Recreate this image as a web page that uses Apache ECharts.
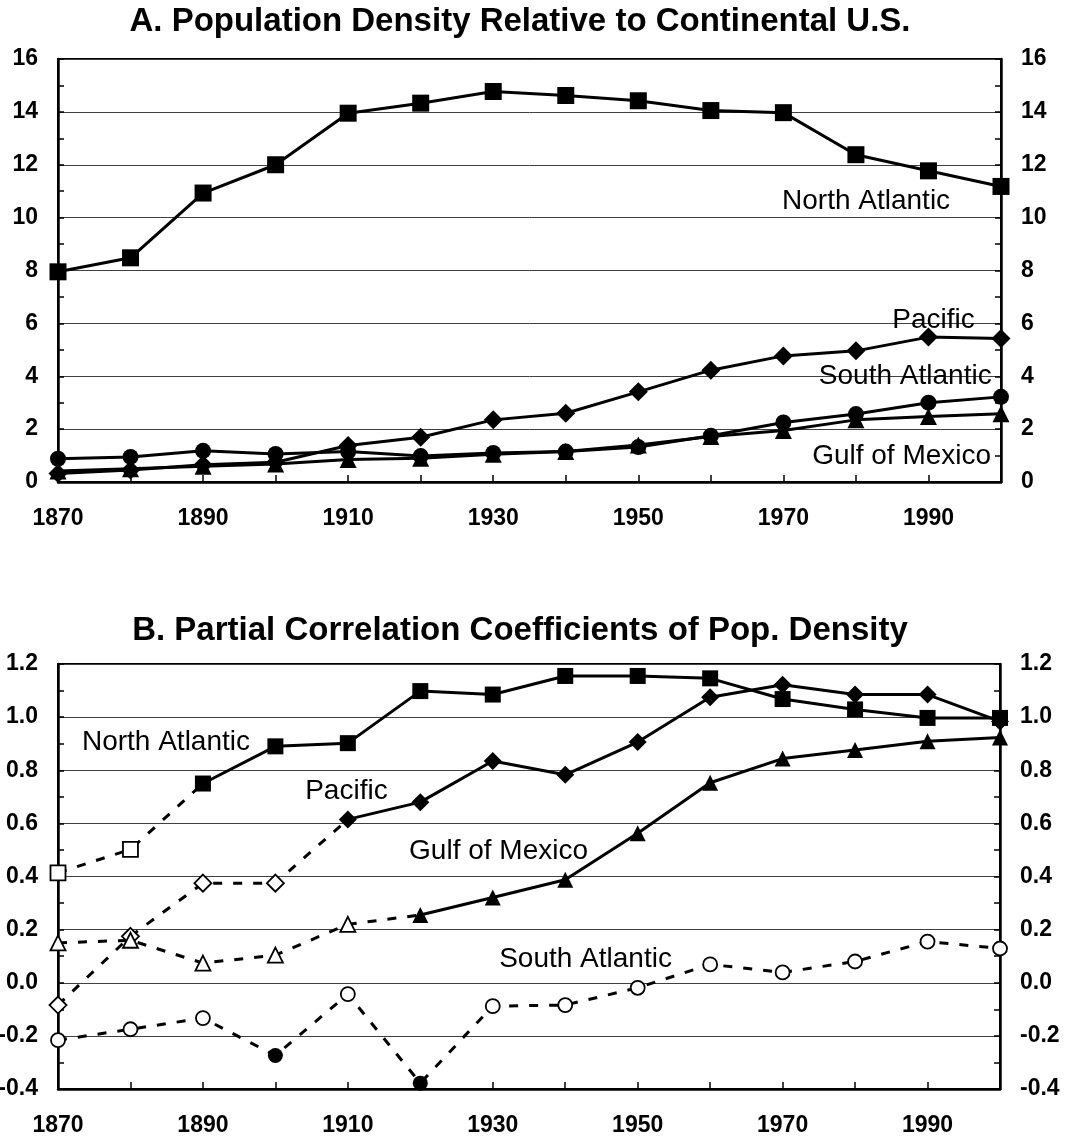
<!DOCTYPE html>
<html><head><meta charset="utf-8">
<script src="https://cdn.jsdelivr.net/npm/echarts@6/dist/echarts.min.js"></script>
<style>html,body{margin:0;padding:0;background:#fff}#c{width:1065px;height:1142px}</style>
</head><body><div id="c"></div>
<script>
// ---------------- DATA ----------------
const years = ['1870','1880','1890','1900','1910','1920','1930','1940','1950','1960','1970','1980','1990','2000'];

// Panel A: population density relative to continental U.S.
const aNorthAtlantic = [7.95, 8.48, 10.93, 12.0, 13.95, 14.33, 14.77, 14.62, 14.42, 14.05, 13.97, 12.38, 11.77, 11.18];
const aPacific       = [0.32, 0.45, 0.65, 0.75, 1.38, 1.69, 2.35, 2.6, 3.41, 4.23, 4.77, 4.96, 5.48, 5.43];
const aSouthAtlantic = [0.88, 0.95, 1.18, 1.06, 1.15, 0.98, 1.1, 1.15, 1.32, 1.75, 2.25, 2.57, 3.0, 3.22];
const aGulfOfMexico  = [0.42, 0.5, 0.6, 0.68, 0.85, 0.9, 1.05, 1.15, 1.4, 1.72, 1.95, 2.35, 2.48, 2.58];

// Panel B: partial correlation coefficients (1 = filled / significant marker, 0 = open marker)
const bNorthAtlantic = [0.414, 0.502, 0.75, 0.89, 0.902, 1.098, 1.085, 1.155, 1.155, 1.146, 1.068, 1.029, 0.997, 0.997];
const bNorthAtlanticFilled = [0,0,1,1,1,1,1,1,1,1,1,1,1,1];
const bPacific = [-0.084, 0.175, 0.375, 0.375, 0.615, 0.68, 0.835, 0.783, 0.906, 1.075, 1.122, 1.085, 1.085, 0.984];
const bPacificFilled = [0,0,0,0,1,1,1,1,1,1,1,1,1,1];
const bGulfOfMexico = [0.15, 0.16, 0.074, 0.104, 0.22, 0.255, 0.321, 0.388, 0.563, 0.753, 0.844, 0.876, 0.909, 0.923];
const bGulfOfMexicoFilled = [0,0,0,0,0,1,1,1,1,1,1,1,1,1];
const bSouthAtlantic = [-0.216, -0.175, -0.133, -0.274, -0.043, -0.378, -0.088, -0.084, -0.019, 0.069, 0.039, 0.08, 0.155, 0.129];
const bSouthAtlanticFilled = [0,0,0,1,0,1,0,0,0,0,0,0,0,0];

// Titles and annotation labels (anchor: category index, value)
const titleA = 'A. Population Density Relative to Continental U.S.';
const titleB = 'B. Partial Correlation Coefficients of Pop. Density';
const labelsA = [['North Atlantic', 11.14, 10.6], ['Pacific', 12.07, 6.12], ['South Atlantic', 11.68, 4.0], ['Gulf of Mexico', 11.63, 0.97]];
const labelsB = [['North Atlantic', 1.49, 0.905], ['Pacific', 3.98, 0.72], ['Gulf of Mexico', 6.08, 0.495], ['South Atlantic', 7.28, 0.087]];

// ---------------- CHART ----------------
const FONT = '"Liberation Sans", Arial, Helvetica, sans-serif';
const chart = echarts.init(document.getElementById('c'), null, {renderer: 'canvas'});

function buildSeries(vals, filled, gi, symbol, fSize, oSize) {
  const n = vals.length;
  const isF = i => !!filled[i];
  const solid = vals.map((v, i) => (isF(i) && ((i > 0 && isF(i - 1)) || (i < n - 1 && isF(i + 1)))) ? v : null);
  const dashed = vals.map((v, i) => ((i > 0 && !(isF(i - 1) && isF(i))) || (i < n - 1 && !(isF(i) && isF(i + 1)))) ? v : null);
  const out = [];
  out.push({type: 'line', xAxisIndex: gi, yAxisIndex: gi * 2, data: solid, symbol: 'none', connectNulls: false,
    lineStyle: {color: '#000', width: 3, opacity: 1}, z: 2, silent: true, animation: false});
  if (dashed.some(v => v !== null)) {
    out.push({type: 'line', xAxisIndex: gi, yAxisIndex: gi * 2, data: dashed, symbol: 'none', connectNulls: false,
      lineStyle: {color: '#000', width: 3, type: [9, 11], cap: 'butt', opacity: 1}, z: 2, silent: true, animation: false});
  }
  out.push({type: 'scatter', xAxisIndex: gi, yAxisIndex: gi * 2, symbol: symbol, z: 3, silent: true, animation: false,
    itemStyle: {opacity: 1},
    data: vals.map((v, i) => ({
      value: [i, v],
      symbolSize: isF(i) ? fSize : oSize,
      itemStyle: isF(i) ? {color: '#000', borderColor: '#000', borderWidth: 0, opacity: 1}
                        : {color: '#fff', borderColor: '#000', borderWidth: 1.8, opacity: 1}
    }))});
  return out;
}

function xAxis(gi) {
  return {type: 'category', gridIndex: gi, data: years, boundaryGap: false,
    axisLine: {onZero: false, lineStyle: {color: '#000', width: 2.5}},
    axisTick: {show: true, inside: true, length: 7, interval: 0, lineStyle: {color: '#000', width: 1.5}},
    axisLabel: {interval: 1, color: '#000', fontSize: 23, fontWeight: 'bold', fontFamily: FONT, margin: 37, verticalAlign: 'middle'},
    splitLine: {show: false}};
}
function yAxis(gi, pos, min, max, interval, fmt, grid) {
  return {type: 'value', gridIndex: gi, position: pos, min: min, max: max, interval: interval,
    axisLine: {show: true, lineStyle: {color: '#000', width: 2.5}},
    axisTick: {show: true, inside: true, length: 6, lineStyle: {color: '#000', width: 1.5}},
    minorTick: {show: true, splitNumber: 2, length: 6, lineStyle: {color: '#000', width: 1.5}},
    splitLine: {show: grid, lineStyle: {color: '#404040', width: 1}},
    axisLabel: {color: '#000', fontSize: 23, fontWeight: 'bold', fontFamily: FONT, margin: 20, formatter: fmt}};
}
const fmtA = v => String(Math.round(v));
const fmtB = v => (Math.abs(v) < 1e-9 ? 0 : v).toFixed(1);

const series = [].concat(
  buildSeries(aNorthAtlantic, aNorthAtlantic.map(() => 1), 0, 'rect', 17, 17),
  buildSeries(aPacific, aPacific.map(() => 1), 0, 'diamond', 19, 19),
  buildSeries(aSouthAtlantic, aSouthAtlantic.map(() => 1), 0, 'circle', 16, 16),
  buildSeries(aGulfOfMexico, aGulfOfMexico.map(() => 1), 0, 'triangle', 17, 17),
  buildSeries(bNorthAtlantic, bNorthAtlanticFilled, 1, 'rect', 16, 15),
  buildSeries(bPacific, bPacificFilled, 1, 'diamond', 18, 17),
  buildSeries(bGulfOfMexico, bGulfOfMexicoFilled, 1, 'triangle', 16, 15),
  buildSeries(bSouthAtlantic, bSouthAtlanticFilled, 1, 'circle', 15, 14)
);

chart.setOption({
  backgroundColor: '#fff',
  animation: false,
  grid: [
    {left: 58, top: 59, width: 943, height: 423, show: true, borderColor: '#000', borderWidth: 2, backgroundColor: 'transparent', containLabel: false, outerBoundsMode: 'none'},
    {left: 58, top: 664, width: 942, height: 425, show: true, borderColor: '#000', borderWidth: 2, backgroundColor: 'transparent', containLabel: false, outerBoundsMode: 'none'}
  ],
  xAxis: [xAxis(0), xAxis(1)],
  yAxis: [
    yAxis(0, 'left', 0, 16, 2, fmtA, true), yAxis(0, 'right', 0, 16, 2, fmtA, false),
    yAxis(1, 'left', -0.4, 1.2, 0.2, fmtB, true), yAxis(1, 'right', -0.4, 1.2, 0.2, fmtB, false)
  ],
  series: series
});

function anchor(gi, idx, val) {
  const i0 = Math.floor(idx), f = idx - i0;
  const p0 = chart.convertToPixel({xAxisIndex: gi, yAxisIndex: gi * 2}, [i0, val]);
  const p1 = chart.convertToPixel({xAxisIndex: gi, yAxisIndex: gi * 2}, [i0 + 1, val]);
  return [p0[0] + f * (p1[0] - p0[0]), p0[1]];
}
const graphics = [];
[[labelsA, 0], [labelsB, 1]].forEach(([labels, gi]) => {
  labels.forEach(([txt, idx, val]) => {
    const p = anchor(gi, idx, val);
    graphics.push({type: 'text', x: p[0], y: p[1], z: 10, silent: true,
      style: {text: txt, fill: '#000', font: '28px ' + FONT, textAlign: 'center', textVerticalAlign: 'middle'}});
  });
});
const cA = chart.convertToPixel({xAxisIndex: 0, yAxisIndex: 0}, [0, 16]);
const cB = chart.convertToPixel({xAxisIndex: 1, yAxisIndex: 2}, [0, 1.2]);
graphics.push({type: 'text', x: 520, y: cA[1] - 37, z: 10, silent: true,
  style: {text: titleA, fill: '#000', font: 'bold 33px ' + FONT, textAlign: 'center', textVerticalAlign: 'middle'}});
graphics.push({type: 'text', x: 520, y: cB[1] - 33, z: 10, silent: true,
  style: {text: titleB, fill: '#000', font: 'bold 33px ' + FONT, textAlign: 'center', textVerticalAlign: 'middle'}});
chart.setOption({graphic: graphics});
</script>
</body></html>
